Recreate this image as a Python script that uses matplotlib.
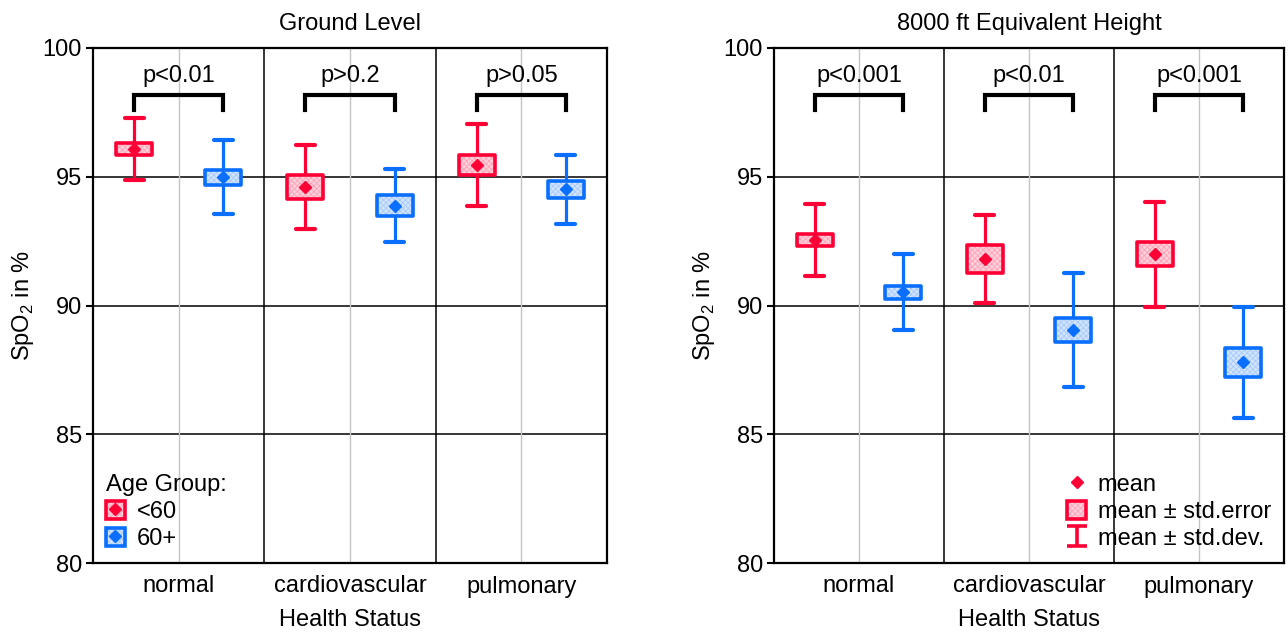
import numpy as np
import matplotlib
matplotlib.use('Agg')
import matplotlib.pyplot as plt
from matplotlib.patches import Rectangle, Patch
from matplotlib.lines import Line2D
from matplotlib.path import Path
from matplotlib.legend_handler import HandlerTuple

plt.rcParams['font.family'] = ['Liberation Sans', 'DejaVu Sans']
plt.rcParams['font.size'] = 17
plt.rcParams['hatch.linewidth'] = 0.6

# data ----------------------------------------------------------------------
groups = ['normal', 'cardiovascular', 'pulmonary']
age_groups = ['<60', '60+']

ground_mean_lt60 = [96.08, 94.59, 95.46]
ground_se_lt60 = [0.25, 0.47, 0.38]
ground_sd_lt60 = [1.22, 1.63, 1.60]
ground_mean_60 = [94.98, 93.88, 94.52]
ground_se_60 = [0.29, 0.41, 0.33]
ground_sd_60 = [1.43, 1.43, 1.34]
ground_p = ['p<0.01', 'p>0.2', 'p>0.05']

height_mean_lt60 = [92.54, 91.81, 91.99]
height_se_lt60 = [0.22, 0.55, 0.47]
height_sd_lt60 = [1.40, 1.70, 2.03]
height_mean_60 = [90.52, 89.05, 87.79]
height_se_60 = [0.25, 0.47, 0.55]
height_sd_60 = [1.48, 2.20, 2.14]
height_p = ['p<0.001', 'p<0.01', 'p<0.001']

RED = '#FF0036'
BLUE = '#0A6EFF'
RED_FILL, RED_HATCH = '#FFD0DA', '#FFA3B6'
BLUE_FILL, BLUE_HATCH = '#D2E4FF', '#A6CAFF'
OFF = 0.26
BOXW = 0.21
CAPW = 0.11


def caja(ax, x, m, se, sd, col, fill, hatch):
  # whisker + caps
  ax.plot([x, x], [m - sd, m + sd], color=col, lw=2.3, zorder=3, solid_capstyle='butt')
  for yc in (m - sd, m + sd):
    ax.plot([x - CAPW/2, x + CAPW/2], [yc, yc], color=col, lw=3, zorder=3,
            solid_capstyle='round')
  # box
  ax.add_patch(Rectangle((x - BOXW/2, m - se), BOXW, 2*se, facecolor=fill,
                         edgecolor=hatch, hatch='xxxxxx', lw=0, zorder=4))
  ax.add_patch(Rectangle((x - BOXW/2, m - se), BOXW, 2*se, facecolor='none',
                         edgecolor=col, lw=2.6, joinstyle='round', zorder=5))
  ax.plot(x, m, marker='D', ms=6.5, color=col, mec=col, zorder=6, ls='none')


def panel(ax, titulo, m1, se1, sd1, m2, se2, sd2, pv):
  ax.set_xlim(-0.5, 2.5)
  ax.set_ylim(80, 100)
  for yg in (85, 90, 95):
    ax.axhline(yg, color='black', lw=1.1, zorder=1)
  for xg in (0.5, 1.5):
    ax.axvline(xg, color='black', lw=1.1, zorder=1)
  for xg in range(3):
    ax.axvline(xg, color='#C4C4C4', lw=1.0, zorder=1)

  for i in range(3):
    caja(ax, i - OFF, m1[i], se1[i], sd1[i], RED, RED_FILL, RED_HATCH)
    caja(ax, i + OFF, m2[i], se2[i], sd2[i], BLUE, BLUE_FILL, BLUE_HATCH)
    # bracket
    ax.plot([i - OFF, i - OFF, i + OFF, i + OFF], [97.6, 98.17, 98.17, 97.6],
            color='black', lw=3, solid_joinstyle='miter', zorder=3)
    ax.text(i, 98.9, pv[i], ha='center', va='center', fontsize=17)

  ax.set_xticks(range(3))
  ax.set_xticklabels(groups)
  ax.set_yticks([80, 85, 90, 95, 100])
  ax.tick_params(axis='x', length=0, pad=9)
  ax.tick_params(axis='y', length=5, width=1.5, pad=3)
  for s in ax.spines.values():
    s.set_linewidth(1.6)
  ax.set_xlabel('Health Status', labelpad=8)
  ax.set_ylabel('SpO$_{\\mathregular{2}}$ in %', labelpad=5)
  ax.set_title(titulo, fontsize=17, pad=13)


fig = plt.figure(figsize=(12.88, 6.32), dpi=100)
ax1 = fig.add_axes([93/1288, 1 - 563/632, 514/1288, 515/632])
ax2 = fig.add_axes([774/1288, 1 - 563/632, 510/1288, 515/632])

panel(ax1, 'Ground Level', ground_mean_lt60, ground_se_lt60, ground_sd_lt60,
      ground_mean_60, ground_se_60, ground_sd_60, ground_p)
panel(ax2, '8000 ft Equivalent Height', height_mean_lt60, height_se_lt60, height_sd_lt60,
      height_mean_60, height_se_60, height_sd_60, height_p)

# legend left
def caja_handle(col, fill, hatch, con_media=True):
  h = [Patch(facecolor=fill, edgecolor=hatch, hatch='xxxxxx', lw=0),
       Patch(facecolor='none', edgecolor=col, lw=2.6)]
  if con_media:
    h.append(Line2D([], [], marker='D', ms=6, color=col, ls='none'))
  return tuple(h)

leg1 = ax1.legend([caja_handle(RED, RED_FILL, RED_HATCH), caja_handle(BLUE, BLUE_FILL, BLUE_HATCH)],
                  age_groups, title='Age Group:', loc='lower left', frameon=False,
                  handler_map={tuple: HandlerTuple(ndivide=1)},
                  handlelength=0.8, handleheight=0.8, handletextpad=0.5,
                  labelspacing=0.2, borderaxespad=0.15, fontsize=17, title_fontsize=17)
leg1._legend_box.align = 'left'

# legend right
ibeam = Path([(-1, -1), (1, -1), (0, -1), (0, 1), (-1, 1), (1, 1)],
             [Path.MOVETO, Path.LINETO, Path.MOVETO, Path.LINETO, Path.MOVETO, Path.LINETO])
h_mean = Line2D([], [], marker='D', ms=6, color=RED, ls='none')
h_se = caja_handle(RED, RED_FILL, RED_HATCH, con_media=False)
h_sd = Line2D([], [], marker=ibeam, ms=14, mew=2.6, color=RED, ls='none', fillstyle='none')
ax2.legend([h_mean, h_se, h_sd], ['mean', 'mean \u00b1 std.error', 'mean \u00b1 std.dev.'],
           loc='lower right', frameon=False,
           handler_map={tuple: HandlerTuple(ndivide=1)},
           handlelength=0.8, handleheight=0.8, handletextpad=0.5,
           labelspacing=0.2, borderaxespad=0.15, fontsize=17)

plt.savefig('out.png', dpi=100)
